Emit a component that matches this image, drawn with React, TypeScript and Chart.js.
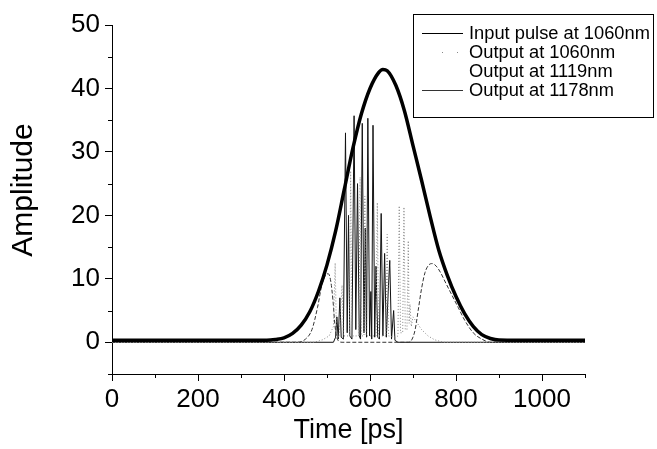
import React, { useEffect, useRef } from 'react';
import { Chart, registerables } from 'chart.js';

Chart.register(...registerables);

// ---- data ----
const inputTime = [0, 100, 200, 300, 360, 380, 400, 420, 440, 460, 480, 500, 520, 540, 560, 580, 600, 620, 630, 640, 660, 680, 700, 720, 740, 760, 780, 800, 820, 840, 860, 880, 900, 1000, 1100];
const inputAmp = [0.3, 0.3, 0.3, 0.3, 0.32, 0.45, 0.7, 1.4, 2.7, 4.8, 8, 12.2, 17.5, 24, 30.5, 36, 40, 42.5, 43, 42.8, 40.5, 36.5, 31, 25.5, 19.8, 14.5, 10.5, 7.2, 4.5, 2.5, 1.2, 0.6, 0.35, 0.3, 0.3];

const out1060Time = [0, 470, 490, 505, 515, 519, 522, 528, 535, 538, 552, 555, 558, 574, 577, 580, 586, 588, 591, 614, 617, 620, 637, 640, 643, 660, 665, 668, 671, 676, 679, 682, 686, 689, 691, 693, 696, 700, 710, 720, 735, 750, 770, 1100];
const out1060Amp = [0, 0, 0.4, 1, 2.5, 12.5, 1.5, 0.8, 9, 1, 1, 27, 1, 1, 26, 1, 1, 23, 1, 1, 22, 1, 1, 17, 1, 0.8, 1, 21.5, 1.5, 1.5, 21.3, 2, 2, 16, 3, 6, 2.5, 4, 3, 2, 1, 0.4, 0, 0];

const out1119Time = [0, 430, 450, 465, 478, 488, 497, 503, 509, 514, 518, 522, 527, 535, 690, 698, 705, 712, 720, 728, 737, 745, 754, 764, 775, 790, 805, 820, 840, 860, 880, 1100];
const out1119Amp = [0, 0, 0.5, 2, 5.5, 9, 10.6, 10.8, 9.5, 6.5, 3, 1, 0.2, 0, 0, 0.5, 2, 5, 8.5, 11, 12.2, 12.4, 12, 11, 9.5, 7.5, 5.5, 3.5, 1.5, 0.5, 0, 0];

const out1178Time = [0, 515, 520, 523, 526, 530, 533, 538, 543, 547, 550, 553, 558, 563, 567, 571, 575, 578, 582, 586, 589, 592, 595, 599, 602, 604, 607, 611, 614, 618, 622, 626, 630, 634, 638, 643, 646, 650, 655, 658, 665, 1100];
const out1178Amp = [0, 0, 0.8, 4, 0.5, 7, 0.8, 0.5, 33, 1.5, 20, 1, 0.5, 35.7, 2, 25, 1, 0.5, 34.5, 1.5, 18, 0.8, 35.3, 1, 8, 0.5, 34.2, 0.8, 12, 0.8, 0.5, 20.3, 1, 14, 0.8, 9, 12.9, 0.5, 5, 0.3, 0, 0];

const seriesLabels = ['Input pulse at 1060nm', 'Output at 1060nm', 'Output at 1119nm', 'Output at 1178nm'];

const xMajorTicks = [0, 200, 400, 600, 800, 1000];
const xMinorTicks = [100, 300, 500, 700, 900, 1100];
const yMajorTicks = [0, 10, 20, 30, 40, 50];
const yMinorTicks = [-5, 5, 15, 25, 35, 45];
const xTitle = 'Time [ps]';
const yTitle = 'Amplitude';

const pts = (t: number[], a: number[]) => t.map((x, i) => ({ x, y: a[i] }));

const FONT = '"Liberation Sans", Arial, Helvetica, sans-serif';

const minorTicksPlugin = {
  id: 'minorTicks',
  afterDraw(chart: any) {
    const { ctx } = chart;
    const xs = chart.scales.x;
    const ys = chart.scales.y;
    ctx.save();
    ctx.strokeStyle = '#000';
    ctx.lineWidth = 1;
    ctx.beginPath();
    xMinorTicks.forEach((v) => {
      const px = Math.round(xs.getPixelForValue(v)) + 0.5;
      ctx.moveTo(px, ys.bottom);
      ctx.lineTo(px, ys.bottom + 4);
    });
    yMinorTicks.forEach((v) => {
      const py = Math.round(ys.getPixelForValue(v)) + 0.5;
      ctx.moveTo(xs.left - 4, py);
      ctx.lineTo(xs.left, py);
    });
    ctx.stroke();
    // vertical axis title
    ctx.translate(24, 190);
    ctx.rotate(-Math.PI / 2);
    ctx.font = `30px ${FONT}`;
    ctx.fillStyle = '#000';
    ctx.textAlign = 'center';
    ctx.textBaseline = 'middle';
    ctx.fillText(yTitle, 0, 0);
    ctx.restore();
  },
};

const boxLegendPlugin = {
  id: 'boxLegend',
  afterDraw(chart: any) {
    const { ctx } = chart;
    const x0 = 413;
    const y0 = 14;
    const w = 240;
    const h = 103;
    ctx.save();
    ctx.fillStyle = '#fff';
    ctx.fillRect(x0, y0, w, h);
    ctx.strokeStyle = '#000';
    ctx.lineWidth = 1;
    ctx.strokeRect(x0 + 0.5, y0 + 0.5, w, h);
    ctx.font = `18.3px ${FONT}`;
    ctx.textBaseline = 'middle';
    ctx.fillStyle = '#000';
    chart.data.datasets.forEach((ds: any, i: number) => {
      const cy = y0 + 19 + i * 19;
      const lx0 = x0 + 9;
      const lx1 = x0 + 50;
      ctx.save();
      if (i === 0 || i === 3) {
        ctx.strokeStyle = i === 0 ? '#000' : '#333';
        ctx.lineWidth = 1;
        ctx.beginPath();
        ctx.moveTo(lx0, cy + 0.5);
        ctx.lineTo(lx1, cy + 0.5);
        ctx.stroke();
      } else if (i === 1) {
        ctx.fillStyle = '#888';
        ctx.fillRect(lx0 + 20, cy, 1, 1);
        ctx.fillRect(lx0 + 35, cy, 1, 1);
      }
      ctx.restore();
      ctx.fillText(ds.label, x0 + 56, cy + 1);
    });
    ctx.restore();
  },
};

export default function App() {
  const ref = useRef<HTMLCanvasElement>(null);
  useEffect(() => {
    const canvas = ref.current;
    if (!canvas) return;
    const chart = new Chart(canvas, {
      type: 'line',
      data: {
        datasets: [
          {
            label: seriesLabels[0],
            data: pts(inputTime, inputAmp),
            borderColor: '#000',
            borderWidth: 3.5,
            pointRadius: 0,
            cubicInterpolationMode: 'monotone',
          },
          {
            label: seriesLabels[1],
            data: pts(out1060Time, out1060Amp),
            borderColor: '#888',
            borderWidth: 1,
            borderDash: [1, 2],
            pointRadius: 0,
            tension: 0,
          },
          {
            label: seriesLabels[2],
            data: pts(out1119Time, out1119Amp),
            borderColor: '#333',
            borderWidth: 1,
            borderDash: [4, 2],
            pointRadius: 0,
            cubicInterpolationMode: 'monotone',
          },
          {
            label: seriesLabels[3],
            data: pts(out1178Time, out1178Amp),
            borderColor: '#111',
            borderWidth: 1,
            pointRadius: 0,
            tension: 0,
          },
        ],
      },
      options: {
        responsive: false,
        animation: false,
        devicePixelRatio: 1,
        layout: { padding: { top: 25, right: 72, bottom: 0, left: 0 } },
        plugins: {
          legend: { display: false },
          tooltip: { enabled: false },
        },
        scales: {
          x: {
            type: 'linear',
            min: 0,
            max: 1100,
            afterFit: (s: any) => { s.height = 75; },
            afterBuildTicks: (s: any) => {
              s.ticks = xMajorTicks.map((v) => ({ value: v }));
            },
            border: { display: true, color: '#000', width: 1 },
            grid: { drawOnChartArea: false, tickLength: 7, color: '#000' },
            ticks: {
              autoSkip: false,
              maxRotation: 0,
              padding: 3,
              color: '#000',
              font: { size: 26, family: FONT },
              callback: (v: any) => String(v),
            },
            title: {
              display: true,
              text: xTitle,
              color: '#000',
              font: { size: 27, family: FONT },
              padding: { top: 0, bottom: 2 },
            },
          },
          y: {
            type: 'linear',
            min: -5,
            max: 50,
            afterFit: (s: any) => { s.width = 112; },
            afterBuildTicks: (s: any) => {
              s.ticks = yMajorTicks.map((v) => ({ value: v }));
            },
            border: { display: true, color: '#000', width: 1 },
            grid: { drawOnChartArea: false, tickLength: 7, color: '#000' },
            ticks: {
              padding: 5,
              color: '#000',
              font: { size: 26, family: FONT },
              callback: (v: any) => String(v),
            },
            title: { display: false },
          },
        },
      },
      plugins: [minorTicksPlugin, boxLegendPlugin],
    } as any);
    return () => chart.destroy();
  }, []);
  return (
    <div style={{ position: 'absolute', left: 0, top: 0, width: 657, height: 449, background: '#fff' }}>
      <canvas ref={ref} width={657} height={449} style={{ display: 'block', width: 657, height: 449 }} />
    </div>
  );
}
